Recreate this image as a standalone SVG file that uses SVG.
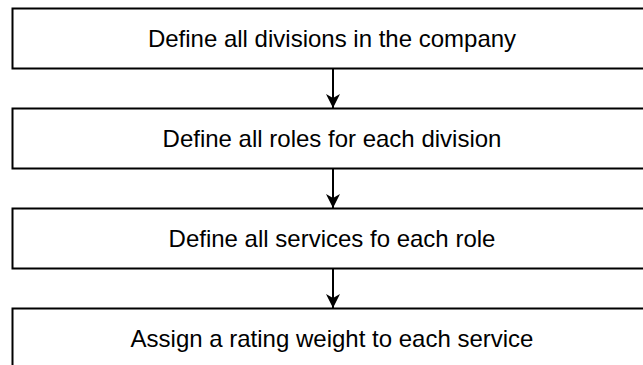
<svg xmlns="http://www.w3.org/2000/svg" width="643" height="365" viewBox="0 0 643 365">
  <style>
    .box { fill: #ffffff; stroke: #000000; stroke-width: 2; }
    .label { font-family: "Liberation Sans", Arial, Helvetica, sans-serif; font-size: 24px; fill: #000000; text-anchor: middle; dominant-baseline: central; }
    .edge { stroke: #000000; stroke-width: 2; fill: none; }
  </style>
  <defs>
    <marker id="arrow" viewBox="0 0 14 16" refX="14" refY="8" markerWidth="14" markerHeight="16" markerUnits="userSpaceOnUse" orient="auto">
      <path d="M14 8 L0 1 L4 8 L0 15 Z" fill="#000000"/>
    </marker>
  </defs>
  <rect width="643" height="365" fill="#ffffff"/>

  <g id="connectors">
    <line class="edge" x1="333" y1="68.5" x2="333" y2="108" marker-end="url(#arrow)"/>
    <line class="edge" x1="333" y1="168.5" x2="333" y2="208" marker-end="url(#arrow)"/>
    <line class="edge" x1="333" y1="268.5" x2="333" y2="308" marker-end="url(#arrow)"/>
  </g>

  <g id="step-divisions">
    <rect class="box" x="12.5" y="8.5" width="641" height="60"/>
    <text class="label" x="332" y="38.5">Define all divisions in the company</text>
  </g>
  <g id="step-roles">
    <rect class="box" x="12.5" y="108.5" width="641" height="60"/>
    <text class="label" x="332" y="138.5">Define all roles for each division</text>
  </g>
  <g id="step-services">
    <rect class="box" x="12.5" y="208.5" width="641" height="60"/>
    <text class="label" x="332" y="238.5">Define all services fo each role</text>
  </g>
  <g id="step-weights">
    <rect class="box" x="12.5" y="308.5" width="641" height="60"/>
    <text class="label" x="332" y="338.5">Assign a rating weight to each service</text>
  </g>
</svg>
